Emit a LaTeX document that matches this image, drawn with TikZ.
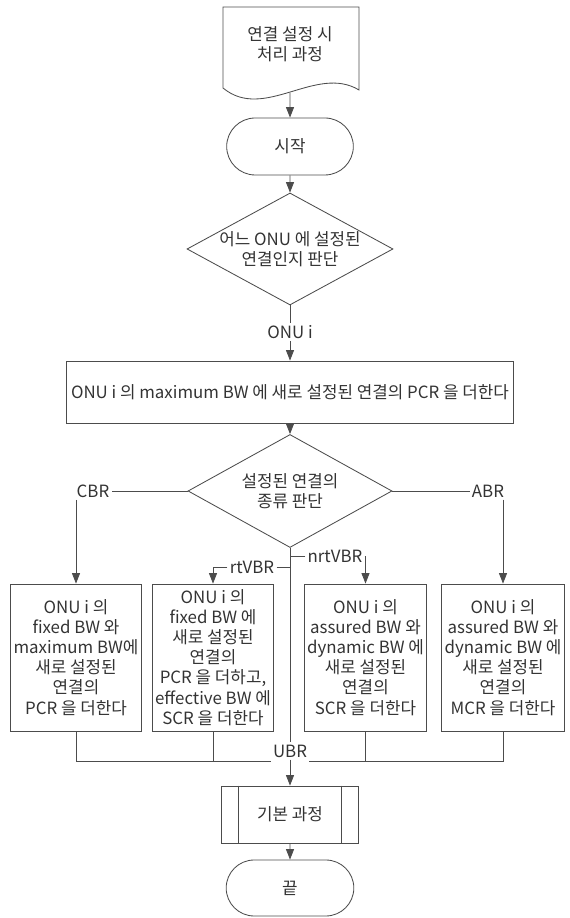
\documentclass[tikz,border=0pt]{standalone}
\usepackage{fontspec}
\setmainfont{Noto Sans CJK KR}
\usetikzlibrary{shapes.geometric,shapes.misc,arrows.meta}

\begin{document}
\begin{tikzpicture}[
	wire/.style={draw=black!70, line width=0.6pt},
	arr/.style={wire, -{Triangle[length=2.6mm,width=2mm]}},
	every node/.style={font=\fontsize{12}{14.3}\selectfont, text=black!80},
	lbl/.style={inner sep=1.5pt},
	term/.style={rounded rectangle, wire, minimum width=3.4cm, minimum height=1.425cm},
	judge/.style={diamond, wire, inner xsep=0pt, inner ysep=-3pt, aspect=1.8, align=center},
	work/.style={rectangle, wire, align=center, minimum width=3cm, minimum height=3.675cm, inner sep=2pt}
	]
	\useasboundingbox (0,0) rectangle (14.225,22.95);
	% Dokument oben
	\node [align=center] (doc) at (7.25,21.85) {연결 설정 시\\처리 과정};
	\draw [wire] (5.575,20.75) -- (5.575,22.775) -- (8.975,22.775) -- (8.975,20.7) .. controls (7.9,21.35) and (6.6,19.9) .. (5.575,20.75) -- cycle;
	\coordinate (docend) at (7.25,20.63);
	\node [term] (start) at (7.25,19.2875) {시작};
	\node [judge, minimum width=5.15cm, minimum height=2.8cm] (which) at (7.25,16.725) {어느 ONU 에 설정된\\연결인지 판단};
	\node [lbl] (onu) at (7.25,14.65) {ONU i};
	\node [rectangle, wire, minimum width=11.075cm, minimum height=1.55cm] (addpcr) at (7.25,13.15) {ONU i 의 maximum BW 에 새로 설정된 연결의 PCR 을 더한다};
	\node [judge, minimum width=5.1cm, minimum height=2.825cm] (kind) at (7.25,10.675) {설정된 연결의\\종류 판단};
	% Verzweigung
	\node [lbl] (cbr) at (2.325,10.675) {CBR};
	\node [lbl] (abr) at (12.2,10.675) {ABR};
	\node [lbl] (rtvbr) at (6.3,8.775) {rtVBR};
	\node [lbl] (nrtvbr) at (8.375,9.05) {nrtVBR};
	\node [work] (cbrbox) at (1.9,6.5125) {ONU i 의\\fixed BW 와\\maximum BW에\\새로 설정된\\연결의\\PCR 을 더한다};
	\node [work] (rtbox) at (5.325,6.5125) {ONU i 의\\fixed BW 에\\새로 설정된\\연결의\\PCR 을 더하고,\\effective BW 에\\SCR 을 더한다};
	\node [work] (nrtbox) at (9.1375,6.5125) {ONU i 의\\assured BW 와\\dynamic BW 에\\새로 설정된\\연결의\\SCR 을 더한다};
	\node [work] (abrbox) at (12.575,6.5125) {ONU i 의\\assured BW 와\\dynamic BW 에\\새로 설정된\\연결의\\MCR 을 더한다};
	\node [lbl] (ubr) at (7.25,4.175) {UBR};
	\coordinate (bus) at (7.25,3.925);
	% Ende
	\node [rectangle, wire, minimum width=3.425cm, minimum height=1.425cm] (basic) at (7.25,2.5875) {기본 과정};
	\draw [wire] ([xshift=0.44cm]basic.north west) -- ([xshift=0.44cm]basic.south west);
	\draw [wire] ([xshift=-0.44cm]basic.north east) -- ([xshift=-0.44cm]basic.south east);
	\node [term, minimum width=3.425cm, minimum height=1.4cm] (stop) at (7.25,0.75) {끝};
	% Pfeile
	\draw [arr] (docend) -- (start);
	\draw [arr] (start) -- (which);
	\draw [wire] (which) -- (onu);
	\draw [arr] (onu) -- (addpcr);
	\draw [arr] (addpcr) -- (kind);
	\draw [wire] (kind) -- (cbr);
	\draw [wire] (kind) -- (abr);
	\draw [arr] (cbr.south -| cbrbox.north) -- (cbrbox.north);
	\draw [arr] (abr.south -| abrbox.north) -- (abrbox.north);
	\draw [wire] (kind.south) -- (ubr);
	\draw [wire] (rtvbr.east) -- (rtvbr.east -| kind.south);
	\draw [arr] (rtvbr.west) -| (rtbox.north);
	\draw [wire] (nrtvbr.west) -- (nrtvbr.west -| kind.south);
	\draw [arr] (nrtvbr.east) -| (nrtbox.north);
	\draw [wire] (cbrbox.south) |- (ubr.west |- bus);
	\draw [wire] (rtbox.south) -- (rtbox.south |- bus);
	\draw [wire] (abrbox.south) |- (ubr.east |- bus);
	\draw [wire] (nrtbox.south) -- (nrtbox.south |- bus);
	\draw [arr] (ubr) -- (basic);
	\draw [arr] (basic) -- (stop);
\end{tikzpicture}
\end{document}
